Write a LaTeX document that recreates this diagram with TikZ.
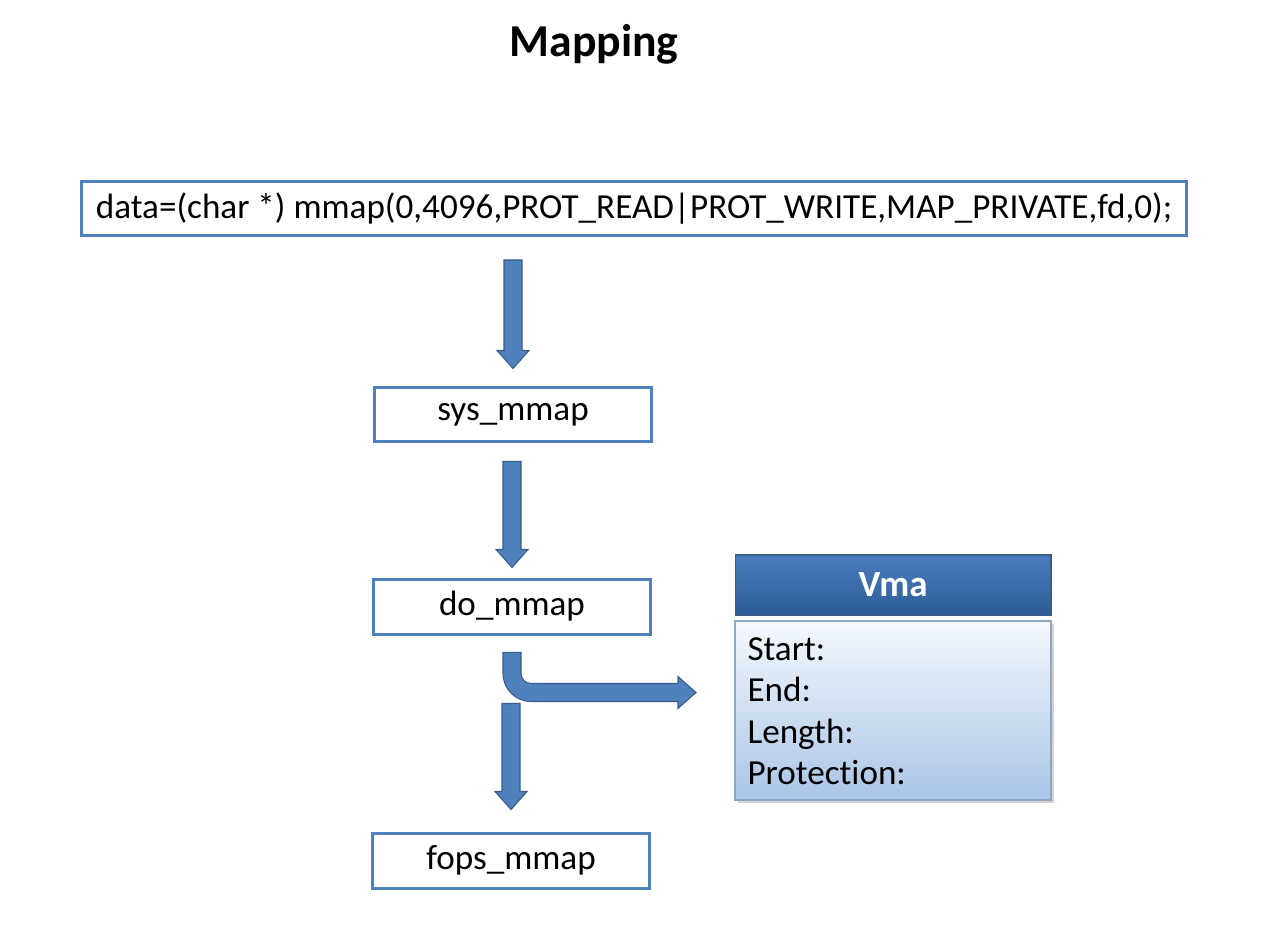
\documentclass[tikz,border=0pt]{standalone}
\usepackage{fontspec}
\setmainfont{Carlito}[Ligatures={NoCommon}]
\usepackage{tikz}
\usetikzlibrary{
  calc,       % 坐标计算
  shadows,    % 阴影效果
  positioning % 节点相对定位
}
\definecolor{ppblue}{HTML}{4F81BD}
\definecolor{ppedge}{HTML}{385D8A}
\definecolor{vmatop}{HTML}{4A7DBE}
\definecolor{vmabot}{HTML}{2D5B98}
\definecolor{bodytop}{HTML}{F5F8FC}
\definecolor{bodybot}{HTML}{A9C5E7}
\definecolor{bodyline}{HTML}{8FA5C2}

% 竖直块状箭头：#1 起点节点, #2 终点节点, #3 上间隙, #4 下间隙
\newcommand{\blockdown}[4]{%
  \path ($(#2.north |- #1.south)+(0,-#3)$) coordinate (bs)
        ($(#2.north)+(0,#4)$) coordinate (bt);
  \filldraw[blockarrow] ($(bs)+(-9,0)$) -- ($(bs)+(9,0)$) -- ($(bt)+(9,18)$)
    -- ($(bt)+(16,18)$) -- (bt) -- ($(bt)+(-16,18)$) -- ($(bt)+(-9,18)$) -- cycle;
}

\begin{document}
\begin{tikzpicture}[x=0.02cm, y=0.02cm,
  funcbox/.style={draw=ppblue, line width=0.06cm, fill=white, inner sep=0pt,
    minimum width=5.56cm, minimum height=1.1cm, font=\fontsize{20}{24}\selectfont},
  blockarrow/.style={fill=ppblue, draw=ppedge, line width=0.6pt},
  fieldtext/.style={anchor=base west, inner sep=0pt, font=\fontsize{20}{24}\selectfont}]

  % =========== 画布范围 ===========
  \useasboundingbox (0,0) rectangle (1263,931);

  % =========== 标题 ===========
  \node[anchor=base, font=\fontsize{26}{30}\selectfont\bfseries] (title) at (594,874) {Mapping};

  % =========== 调用链 ===========
  \node[funcbox, minimum width=22.1cm, minimum height=1.08cm] (call) at (634,722.5)
    {data=(char *) mmap(0,4096,PROT\_READ|PROT\_WRITE,MAP\_PRIVATE,fd,0);};
  \node[funcbox] (sysmmap)  at (513,516.5) {sys\_mmap};
  \node[funcbox] (domap)    at (512,324.5) {do\_mmap};
  \node[funcbox] (fopsmmap) at (511,70.5)  {fops\_mmap};

  % =========== Vma 结构 ===========
  \node[draw=ppedge, line width=0.6pt, top color=vmatop, bottom color=vmabot,
    minimum width=6.32cm, minimum height=1.2cm, text=white,
    font=\fontsize{21}{24}\selectfont\bfseries] (vmahead) at (893,346) {Vma};
  \node[draw=bodyline, line width=1pt, top color=bodytop, bottom color=bodybot,
    minimum width=6.32cm, minimum height=3.58cm,
    drop shadow={shadow xshift=0.06cm, shadow yshift=-0.06cm, opacity=0.35}] (vmabody) at (893,220.5) {};
  \node[fieldtext] (field1) at ($(vmabody.north west)+(13,-40)$)  {Start:};
  \node[fieldtext] (field2) at ($(vmabody.north west)+(13,-81)$)  {End:};
  \node[fieldtext] (field3) at ($(vmabody.north west)+(13,-123)$) {Length:};
  \node[fieldtext] (field4) at ($(vmabody.north west)+(13,-164)$) {Protection:};

  % =========== 块状箭头 ===========
  \blockdown{call}{sysmmap}{23}{17}
  \blockdown{sysmmap}{domap}{18}{10}
  \blockdown{domap}{fopsmmap}{68}{22}

  % 弯折箭头：do_mmap 指向 Vma
  \filldraw[blockarrow] ($(domap.south)+(-9,-17)$) -- ++(0,-21)
    arc[start angle=180, end angle=270, radius=0.56cm] -- ++(147,0) -- ++(0,-7)
    -- ++(18,16) -- ++(-18,16) -- ++(0,-7) -- ++(-147,0)
    arc[start angle=270, end angle=180, radius=0.2cm] -- ++(0,21) -- cycle;

\end{tikzpicture}
\end{document}
